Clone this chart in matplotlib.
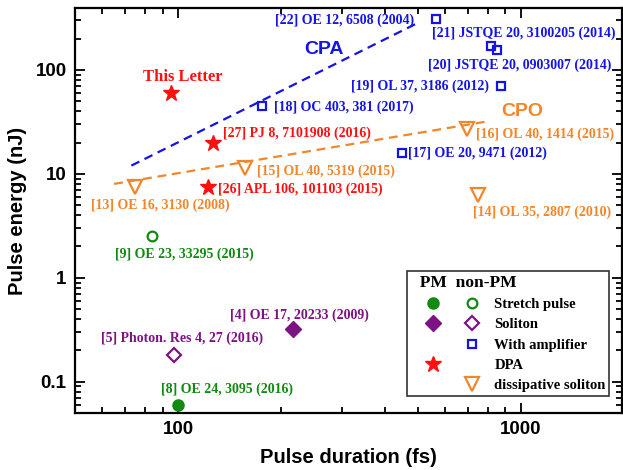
import matplotlib
matplotlib.use('Agg')
import matplotlib.pyplot as plt
from matplotlib.lines import Line2D
from matplotlib.ticker import LogLocator, NullFormatter, FuncFormatter

# (duration fs, energy nJ)
pm_stretch = ([100], [0.06])
nonpm_stretch = ([84], [2.5])
pm_soliton = ([216], [0.32])
nonpm_soliton = ([97], [0.18])
amp_dur = [565, 815, 850, 875, 175, 450]
amp_energy = [310, 170, 155, 70, 45, 16]
dpa_dur = [95, 126, 122]
dpa_energy = [60, 20, 7.5]
ds_dur = [75, 157, 695, 750]
ds_energy = [7.5, 11.5, 27, 6.2]

cpa_fit = ([73, 505], [12, 288])
cpo_fit = ([65, 800], [8, 32])

# label text, x, y, colour key
labels = [
    ('[22] OE 12, 6508 (2004)', 192, 300, 'blue'),
    ('[21] JSTQE 20, 3100205 (2014)', 549, 225, 'blue'),
    ('[20] JSTQE 20, 0903007 (2014)', 537, 110, 'blue'),
    ('[19] OL 37, 3186 (2012)', 319, 70, 'blue'),
    ('[18] OC 403, 381 (2017)', 190, 44, 'blue'),
    ('[27] PJ 8, 7101908 (2016)', 135, 24.6, 'red'),
    ('[16] OL 40, 1414 (2015)', 739, 24, 'orange'),
    ('[17] OE 20, 9471 (2012)', 469, 15.8, 'blue'),
    ('[15] OL 40, 5319 (2015)', 170, 10.5, 'orange'),
    ('[26] APL 106, 101103 (2015)', 131, 7.1, 'red'),
    ('[13] OE 16, 3130 (2008)', 55.7, 5.0, 'orange'),
    ('[14] OL 35, 2807 (2010)', 726, 4.3, 'orange'),
    ('[9] OE 23, 33295 (2015)', 65.5, 1.7, 'green'),
    ('[4] OE 17, 20233 (2009)', 142, 0.44, 'purple'),
    ('[5] Photon. Res 4, 27 (2016)', 59.5, 0.26, 'purple'),
    ('[8] OE 24, 3095 (2016)', 89, 0.084, 'green'),
]

colors = {'blue': '#1414e6', 'red': '#ff1010', 'orange': '#f2862a',
          'green': '#118a11', 'purple': '#7d1283'}
serif = 'Liberation Serif'
sans = 'Liberation Sans'

fig = plt.figure(figsize=(6.23, 4.70), dpi=100, facecolor='white')
ax = fig.add_axes([0.1204, 0.1213, 0.8780, 0.8617])
ax.set_xscale('log')
ax.set_yscale('log')
ax.set_xlim(50, 1970)
ax.set_ylim(0.05, 394)

lw = 1.6
ax.plot(*cpa_fit, color=colors['blue'], lw=lw, dashes=(4, 2.6))
ax.plot(*cpo_fit, color=colors['orange'], lw=lw, dashes=(4, 2.6))

ax.plot(*pm_stretch, 'o', ms=8, color=colors['green'], mec=colors['green'])
ax.plot(*nonpm_stretch, 'o', ms=7, mfc='none', mec=colors['green'], mew=1.6)
ax.plot(*pm_soliton, 'D', ms=8, color=colors['purple'])
ax.plot(*nonpm_soliton, 'D', ms=7.5, mfc='none', mec=colors['purple'], mew=1.6)
ax.plot(amp_dur, amp_energy, 's', ms=6, mfc='none', mec=colors['blue'], mew=1.6, ls='none')
ax.plot(dpa_dur, dpa_energy, '*', ms=12, color=colors['red'], ls='none')
ax.plot(ds_dur, ds_energy, 'v', ms=9.5, mfc='none', mec=colors['orange'], mew=1.6, ls='none')

for txt, x, y, c in labels:
    ax.text(x, y, txt, color=colors[c], fontsize=10, fontweight='bold',
            family=serif, ha='left', va='center')

ax.text(103, 86, 'This Letter', color=colors['red'], fontsize=12, fontweight='bold',
        family=serif, ha='center', va='center')
ax.text(267, 156, 'CPA', color=colors['blue'], fontsize=14, fontweight='bold',
        family=sans, ha='center', va='center')
ax.text(1009, 39.5, 'CPO', color=colors['orange'], fontsize=14, fontweight='bold',
        family=sans, ha='center', va='center')

ax.set_xlabel('Pulse duration (fs)', fontsize=14.5, fontweight='bold', family=sans, labelpad=7)
ax.set_ylabel('Pulse energy (nJ)', fontsize=14.5, fontweight='bold', family=sans, labelpad=6)

fmt = FuncFormatter(lambda v, p: ('%g' % v))
for axis in (ax.xaxis, ax.yaxis):
    axis.set_major_locator(LogLocator(base=10, numticks=10))
    axis.set_minor_locator(LogLocator(base=10, subs=range(2, 10), numticks=20))
    axis.set_major_formatter(fmt)
    axis.set_minor_formatter(NullFormatter())
ax.tick_params(which='both', direction='in', top=True, right=True, width=1.3)
ax.tick_params(which='major', length=7, labelsize=13.5, pad=6)
ax.tick_params(which='minor', length=4)
for lab in ax.get_xticklabels() + ax.get_yticklabels():
    lab.set_fontweight('bold')
    lab.set_family(sans)
for s in ax.spines.values():
    s.set_linewidth(1.6)

# legend: column 1 = PM (filled), column 2 = non-PM (open) with labels
blank = Line2D([], [], ls='none')
h_pm = [
    Line2D([], [], ls='none', marker='o', ms=8, color=colors['green']),
    Line2D([], [], ls='none', marker='D', ms=8, color=colors['purple']),
    blank,
    Line2D([], [], ls='none', marker='*', ms=12, color=colors['red']),
    blank,
]
h_non = [
    Line2D([], [], ls='none', marker='o', ms=7, mfc='none', mec=colors['green'], mew=1.6),
    Line2D([], [], ls='none', marker='D', ms=7.5, mfc='none', mec=colors['purple'], mew=1.6),
    Line2D([], [], ls='none', marker='s', ms=6, mfc='none', mec=colors['blue'], mew=1.6),
    blank,
    Line2D([], [], ls='none', marker='v', ms=9.5, mfc='none', mec=colors['orange'], mew=1.6),
]
names = ['Stretch pulse', 'Soliton', 'With amplifier', 'DPA', 'dissipative soliton']
leg = ax.legend(h_pm + h_non, [''] * 5 + names, ncol=2, loc='lower right',
                bbox_to_anchor=(0.977, 0.042), borderaxespad=0,
                title='  PM  non-PM', alignment='left', fancybox=False,
                edgecolor='#333333', framealpha=1, handlelength=3.07,
                handletextpad=0.0, columnspacing=-0.4, labelspacing=0.49,
                borderpad=0.25, prop={'family': serif, 'weight': 'bold', 'size': 10.5},
                title_fontproperties={'family': serif, 'weight': 'bold', 'size': 12.6})
leg.get_frame().set_linewidth(1.2)

fig.savefig('out.png', dpi=100, facecolor='white')
